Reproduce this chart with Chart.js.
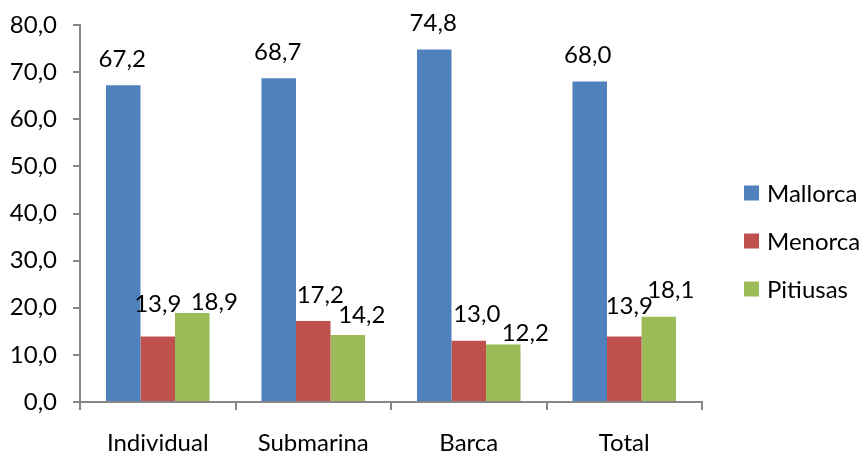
<!DOCTYPE html>
<html>
<head>
<meta charset="utf-8">
<script src="https://cdn.jsdelivr.net/npm/chart.js@4/dist/chart.umd.min.js"></script>
<style>
  html, body { margin: 0; padding: 0; background: #ffffff; }
  #wrap { width: 864px; height: 454px; }
</style>
</head>
<body>
<div id="wrap"><canvas id="chart" width="864" height="454"></canvas></div>
<script>
// Categories and series values
const categories = ['Individual', 'Submarina', 'Barca', 'Total'];
const mallorca = [67.2, 68.7, 74.8, 68.0];
const menorca  = [13.9, 17.2, 13.0, 13.9];
const pitiusas = [18.9, 14.2, 12.2, 18.1];
const seriesNames = ['Mallorca', 'Menorca', 'Pitiusas'];

// Value axis range
const yMin = 0, yMax = 80, yStep = 10;

const colors = ['#4F81BD', '#C0504D', '#9BBB59'];
const FONT = 'Lato';
const FONT_SIZE = 24;
const axisGray = '#868686';

const fmt = v => v.toFixed(1).replace('.', ',');

// Small per-label shifts [dx, dy] so neighbouring value labels don't collide
const labelShift = [
  [[-1, 0], [-1, 0], [-1, 0], [-2, 0]],
  [[0, -6], [7, 0], [8, 0], [5, -4]],
  [[22, 15], [14, 6], [22, 15], [12, 0]]
];

const valueLabels = {
  id: 'valueLabels',
  afterDatasetsDraw(chart) {
    const ctx = chart.ctx;
    ctx.save();
    ctx.font = FONT_SIZE + 'px ' + FONT;
    ctx.fillStyle = '#000000';
    ctx.textAlign = 'center';
    ctx.textBaseline = 'alphabetic';
    chart.data.datasets.forEach((ds, di) => {
      const meta = chart.getDatasetMeta(di);
      meta.data.forEach((bar, i) => {
        const s = labelShift[di][i];
        const cx = bar.x + s[0];
        const cy = bar.y - 27 + s[1];
        ctx.fillText(fmt(ds.data[i]), cx, cy + 0.36 * FONT_SIZE);
      });
    });
    ctx.restore();
  }
};

const sideLegend = {
  id: 'sideLegend',
  afterDraw(chart) {
    const ctx = chart.ctx;
    ctx.save();
    ctx.font = FONT_SIZE + 'px ' + FONT;
    ctx.textAlign = 'left';
    ctx.textBaseline = 'alphabetic';
    chart.data.datasets.forEach((ds, di) => {
      const cy = 193 + di * 48;
      ctx.fillStyle = ds.backgroundColor;
      ctx.fillRect(744, cy - 7.5, 15, 15);
      ctx.fillStyle = '#000000';
      ctx.fillText(ds.label, 767, cy + 0.36 * FONT_SIZE);
    });
    ctx.restore();
  }
};

new Chart(document.getElementById('chart'), {
  type: 'bar',
  data: {
    labels: categories,
    datasets: [
      { label: seriesNames[0], data: mallorca, backgroundColor: colors[0] },
      { label: seriesNames[1], data: menorca,  backgroundColor: colors[1] },
      { label: seriesNames[2], data: pitiusas, backgroundColor: colors[2] }
    ]
  },
  options: {
    responsive: false,
    devicePixelRatio: 1,
    animation: false,
    layout: { padding: { top: 25, right: 162, left: 0, bottom: 0 } },
    datasets: { bar: { categoryPercentage: 0.666, barPercentage: 1.0, borderWidth: 0 } },
    plugins: {
      legend: { display: false },
      tooltip: { enabled: false }
    },
    scales: {
      x: {
        grid: { display: true, drawOnChartArea: false, drawTicks: true, tickLength: 8, color: axisGray, lineWidth: 2, offset: true },
        border: { display: true, color: axisGray, width: 2 },
        ticks: { color: '#000000', font: { family: FONT, size: FONT_SIZE }, padding: 19, maxRotation: 0 },
        afterFit(scale) { scale.height = 52; scale.paddingLeft = 0; scale.paddingRight = 0; }
      },
      y: {
        min: yMin, max: yMax,
        grid: { display: true, drawOnChartArea: false, drawTicks: true, tickLength: 7, color: axisGray, lineWidth: 2 },
        border: { display: true, color: axisGray, width: 2 },
        ticks: {
          stepSize: yStep,
          color: '#000000',
          font: { family: FONT, size: FONT_SIZE },
          padding: 16,
          callback: v => fmt(v)
        },
        afterFit(scale) { scale.width = 80; scale.paddingTop = 0; scale.paddingBottom = 0; }
      }
    }
  },
  plugins: [valueLabels, sideLegend]
});
</script>
</body>
</html>
